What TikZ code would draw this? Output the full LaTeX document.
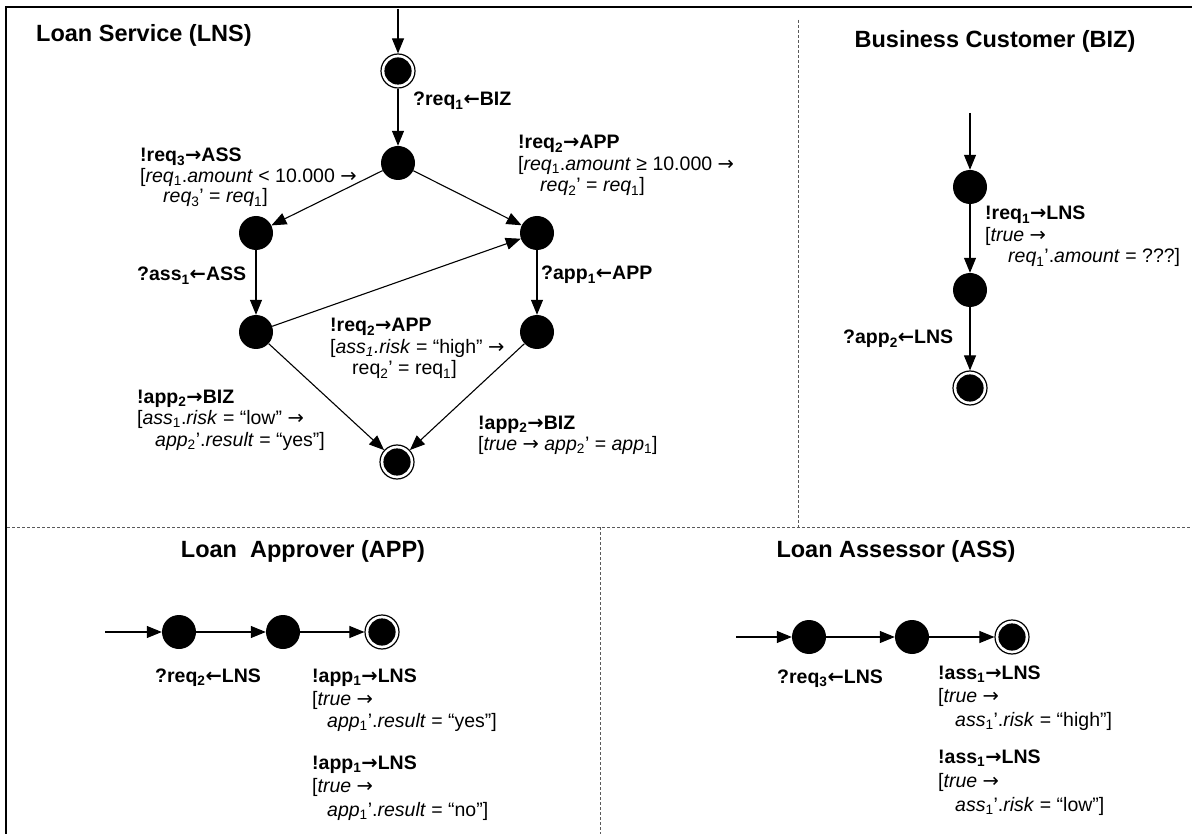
\documentclass[tikz,border=0pt]{standalone}
\usepackage{fontspec}
\setmainfont{Liberation Sans}
\newfontfamily\arrfont{DejaVu Sans}
\usetikzlibrary{arrows.meta}
\newcommand\sbs[1]{\textsubscript{#1}}
\newcommand\ra{{\arrfont →}}
\newcommand\la{{\arrfont ←}}
\newcommand\lfs{\fontsize{19.5}{22}\selectfont}
\newcommand\tfs{\fontsize{23.5}{28}\selectfont\bfseries}
\begin{document}
\begin{tikzpicture}[x=1pt,y=-1pt,
  st/.style={circle,fill=black,minimum size=34pt,inner sep=0pt},
  fin/.style={circle,draw=black,line width=1.2pt,minimum size=34pt,inner sep=0pt,
    path picture={\fill[black] (path picture bounding box.center) circle (13.6pt);}},
  tr/.style={-{Triangle[length=15pt,width=12pt]},line width=1.1pt},
  lab/.style={anchor=base west,inner sep=0pt,font=\lfs},
  ttl/.style={anchor=base,inner sep=0pt,font=\tfs},
  sepline/.style={dash pattern=on 3pt off 2pt,line width=0.9pt,black!65}]
\useasboundingbox (0,0) rectangle (1192,834);
% frame and separators
\draw[line width=2.5pt] (6,834) -- (6,7) -- (1192,7);
\draw[sepline] (798,20) -- (798,527);
\draw[sepline] (7,527) -- (1192,527);
\draw[sepline] (600,527) -- (600,834);

% ---------- Loan Service ----------
\node[ttl,anchor=base west] (tLNS) at (36,42) {Loan Service (LNS)};
\coordinate (i0) at (398,9);
\node[fin] (s0) at (398,71) {};
\node[st] (s1) at (398,163) {};
\node[st] (s2) at (256,233) {};
\node[st] (s3) at (537,233) {};
\node[st] (s4) at (256,332) {};
\node[st] (s5) at (537,332) {};
\node[fin] (s6) at (397,462) {};
\draw[tr] (i0) -- (s0);
\draw[tr] (s0) -- (s1);
\draw[tr] (s1) -- (s2);
\draw[tr] (s1) -- (s3);
\draw[tr] (s2) -- (s4);
\draw[tr] (s4) -- (s3);
\draw[tr] (s3) -- (s5);
\draw[tr] (s4) -- (s6);
\draw[tr] (s5) -- (s6);
\node[lab] (a1) at (413,106) {\textbf{?req\sbs{1}\la BIZ}};
\node[lab] (b1) at (140,162) {\textbf{!req\sbs{3}\ra ASS}};
\node[lab] (b2) at (140,182.5) {[\textit{req}\sbs{1}.\textit{amount} < 10.000 \ra};
\node[lab] (b3) at (163,203) {\textit{req}\sbs{3}’ = \textit{req}\sbs{1}]};
\node[lab] (c1) at (518,149) {\textbf{!req\sbs{2}\ra APP}};
\node[lab] (c2) at (518,170.5) {[\textit{req}\sbs{1}.\textit{amount} ≥ 10.000 \ra};
\node[lab] (c3) at (540,192) {\textit{req}\sbs{2}’ = \textit{req}\sbs{1}]};
\node[lab] (d1) at (137,281) {\textbf{?ass\sbs{1}\la ASS}};
\node[lab] (e1) at (541,280) {\textbf{?app\sbs{1}\la APP}};
\node[lab] (f1) at (330,332) {\textbf{!req\sbs{2}\ra APP}};
\node[lab] (f2) at (330,353.5) {[\textit{ass\sbs{1}.risk} = “high” \ra};
\node[lab] (f3) at (352,375) {req\sbs{2}’ = req\sbs{1}]};
\node[lab] (g1) at (137,403) {\textbf{!app\sbs{2}\ra BIZ}};
\node[lab] (g2) at (137,424.5) {[\textit{ass}\sbs{1}.\textit{risk} = “low” \ra};
\node[lab] (g3) at (155,446) {\textit{app}\sbs{2}’.\textit{result} = “yes”]};
\node[lab] (h1) at (478,429) {\textbf{!app\sbs{2}\ra BIZ}};
\node[lab] (h2) at (478,450.5) {[\textit{true} \ra{} \textit{app}\sbs{2}’ = \textit{app}\sbs{1}]};

% ---------- Business Customer ----------
\node[ttl] (tBIZ) at (995,48) {Business Customer (BIZ)};
\coordinate (i1) at (970,113);
\node[st] (z1) at (970,187) {};
\node[st] (z2) at (970,290) {};
\node[fin] (z3) at (970,388) {};
\draw[tr] (i1) -- (z1);
\draw[tr] (z1) -- (z2);
\draw[tr] (z2) -- (z3);
\node[lab] (k1) at (985,220) {\textbf{!req\sbs{1}\ra LNS}};
\node[lab] (k2) at (985,241.5) {[\textit{true} \ra};
\node[lab] (k3) at (1008,263) {\textit{req}\sbs{1}’.\textit{amount} = ???]};
\node[lab] (k4) at (843,344) {\textbf{?app\sbs{2}\la LNS}};

% ---------- Loan Approver ----------
\node[ttl] (tAPP) at (303,557) {Loan\ \ Approver (APP)};
\coordinate (i2) at (105,632);
\node[st] (p1) at (179,632) {};
\node[st] (p2) at (283,632) {};
\node[fin] (p3) at (382,632) {};
\draw[tr] (i2) -- (p1);
\draw[tr] (p1) -- (p2);
\draw[tr] (p2) -- (p3);
\node[lab] (m1) at (155,682) {\textbf{?req\sbs{2}\la LNS}};
\node[lab] (m2) at (312,682) {\textbf{!app\sbs{1}\ra LNS}};
\node[lab] (m3) at (312,705) {[\textit{true} \ra};
\node[lab] (m4) at (327,727.5) {\textit{app}\sbs{1}’.\textit{result} = “yes”]};
\node[lab] (m5) at (312,769) {\textbf{!app\sbs{1}\ra LNS}};
\node[lab] (m6) at (312,792) {[\textit{true} \ra};
\node[lab] (m7) at (327,816) {\textit{app}\sbs{1}’.\textit{result} = “no”]};

% ---------- Loan Assessor ----------
\node[ttl] (tASS) at (896,557) {Loan Assessor (ASS)};
\coordinate (i3) at (736,637);
\node[st] (q1) at (809,637) {};
\node[st] (q2) at (912,637) {};
\node[fin] (q3) at (1012,637) {};
\draw[tr] (i3) -- (q1);
\draw[tr] (q1) -- (q2);
\draw[tr] (q2) -- (q3);
\node[lab] (n1) at (777,683) {\textbf{?req\sbs{3}\la LNS}};
\node[lab] (n2) at (938,679) {\textbf{!ass\sbs{1}\ra LNS}};
\node[lab] (n3) at (938,702) {[\textit{true} \ra};
\node[lab] (n4) at (955,726) {\textit{ass}\sbs{1}’.\textit{risk} = “high”]};
\node[lab] (n5) at (938,763) {\textbf{!ass\sbs{1}\ra LNS}};
\node[lab] (n6) at (938,787) {[\textit{true} \ra};
\node[lab] (n7) at (955,811) {\textit{ass}\sbs{1}’.\textit{risk} = “low”]};
\end{tikzpicture}
\end{document}
